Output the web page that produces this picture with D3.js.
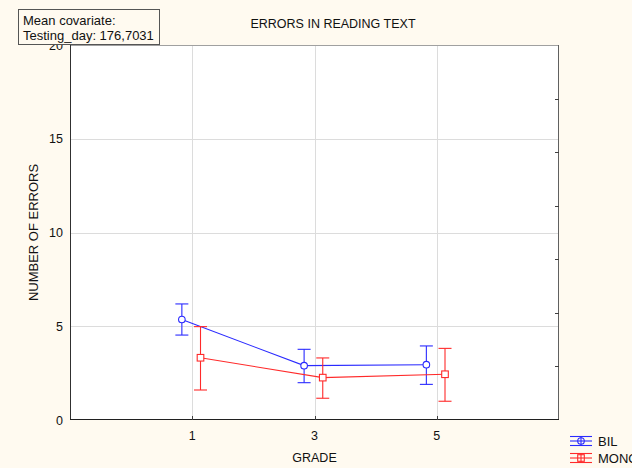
<!DOCTYPE html>
<html>
<head>
<meta charset="utf-8">
<script src="https://cdn.jsdelivr.net/npm/d3@7"></script>
<style>
  html, body { margin: 0; padding: 0; background: #fffaf0; }
  svg { display: block; font-family: "Liberation Sans", Arial, sans-serif; }
</style>
</head>
<body>
<svg id="chart" width="632" height="468"></svg>
<script>
// Grade levels and group means (with confidence limits) of reading errors
const grades = [1, 3, 5];
const yTicks = [0, 5, 10, 15, 20];
const bilMean = [5.36, 2.90, 2.95];
const bilLow  = [4.53, 1.99, 1.90];
const bilHigh = [6.19, 3.77, 3.95];
const monoMean = [3.32, 2.26, 2.44];
const monoLow  = [1.60, 1.16, 1.00];
const monoHigh = [4.98, 3.31, 3.82];
const groupNames = ["BIL", "MONO"];
const title = "ERRORS IN READING TEXT";
const xTitle = "GRADE";
const yTitle = "NUMBER OF ERRORS";
const noteLines = ["Mean covariate:", "Testing_day: 176,7031"];

const svg = d3.select("#chart");
const W = 632, H = 468;
const m = { left: 70, right: 559, top: 45, bottom: 420 };

svg.append("rect").attr("width", W).attr("height", H).attr("fill", "#fffaf0");

const x = d3.scaleLinear().domain([-1, 7]).range([m.left, m.right]);
const y = d3.scaleLinear().domain([0, 20]).range([m.bottom, m.top]);

// plot area
svg.append("rect")
  .attr("x", m.left).attr("y", m.top)
  .attr("width", m.right - m.left).attr("height", m.bottom - m.top)
  .attr("fill", "#ffffff");

// grid
const grid = svg.append("g").attr("stroke", "#dcdcdc").attr("stroke-width", 1);
grid.selectAll("line.h").data(yTicks.filter(v => v > 0 && v < 20)).join("line")
  .attr("x1", m.left).attr("x2", m.right)
  .attr("y1", d => Math.round(y(d)) + 0.5).attr("y2", d => Math.round(y(d)) + 0.5);
grid.selectAll("line.v").data(grades).join("line")
  .attr("y1", m.top).attr("y2", m.bottom)
  .attr("x1", d => Math.round(x(d)) + 0.5).attr("x2", d => Math.round(x(d)) + 0.5);

// frame
svg.append("line").attr("x1", m.left).attr("x2", m.right).attr("y1", m.top + 0.5).attr("y2", m.top + 0.5)
  .attr("stroke", "#a0a0a0");
svg.append("line").attr("x1", m.right - 0.5).attr("x2", m.right - 0.5).attr("y1", m.top).attr("y2", m.bottom)
  .attr("stroke", "#606060");
svg.append("line").attr("x1", m.left + 0.5).attr("x2", m.left + 0.5).attr("y1", m.top).attr("y2", m.bottom)
  .attr("stroke", "#303030");
svg.append("line").attr("x1", m.left).attr("x2", m.right).attr("y1", m.bottom - 0.5).attr("y2", m.bottom - 0.5)
  .attr("stroke", "#202020");

// right-side minor ticks
const rightTicks = d3.range(1, 7).map(i => i * 20 / 7);
svg.append("g").selectAll("line").data(rightTicks).join("line")
  .attr("x1", m.right - 4).attr("x2", m.right)
  .attr("y1", d => Math.round(y(d)) + 0.5).attr("y2", d => Math.round(y(d)) + 0.5)
  .attr("stroke", "#404040");

// bottom ticks
svg.append("g").selectAll("line").data(grades).join("line")
  .attr("x1", d => Math.round(x(d)) + 0.5).attr("x2", d => Math.round(x(d)) + 0.5)
  .attr("y1", m.bottom - 4).attr("y2", m.bottom)
  .attr("stroke", "#404040");

// tick labels
svg.append("g").selectAll("text").data(yTicks).join("text")
  .attr("x", m.left - 7).attr("y", d => y(d) + 4.5)
  .attr("text-anchor", "end").attr("font-size", 12.5).attr("fill", "#111")
  .text(d => d);
svg.append("g").selectAll("text").data(grades).join("text")
  .attr("x", d => x(d)).attr("y", 439.5)
  .attr("text-anchor", "middle").attr("font-size", 12.5).attr("fill", "#111")
  .text(d => d);

// titles
svg.append("text").attr("x", 333).attr("y", 28).attr("text-anchor", "middle")
  .attr("font-size", 12.5).attr("fill", "#111").text(title);
svg.append("text").attr("x", x(3)).attr("y", 461.5).attr("text-anchor", "middle")
  .attr("font-size", 12.5).attr("fill", "#111").text(xTitle);
svg.append("text").attr("transform", `translate(38,${(m.top + m.bottom) / 2}) rotate(-90)`)
  .attr("text-anchor", "middle").attr("font-size", 13).attr("fill", "#111").text(yTitle);

// series
const series = [
  { name: groupNames[0], color: "#2a2aff", dx: -0.17, mean: bilMean, lo: bilLow, hi: bilHigh, shape: "circle" },
  { name: groupNames[1], color: "#ff2a2a", dx: 0.135, mean: monoMean, lo: monoLow, hi: monoHigh, shape: "square" }
];
const cap = 6.5;

series.forEach(s => {
  const pts = grades.map((g, i) => ({ g, px: x(g + s.dx), m: s.mean[i], lo: s.lo[i], hi: s.hi[i] }));
  const g = svg.append("g").attr("stroke", s.color).attr("fill", "none").attr("stroke-width", 1.1);
  g.append("path")
    .attr("d", d3.line().x(d => d.px).y(d => y(d.m))(pts));
  pts.forEach(d => {
    g.append("line").attr("x1", d.px).attr("x2", d.px).attr("y1", y(d.hi)).attr("y2", y(d.lo));
    g.append("line").attr("x1", d.px - cap).attr("x2", d.px + cap).attr("y1", y(d.hi)).attr("y2", y(d.hi));
    g.append("line").attr("x1", d.px - cap).attr("x2", d.px + cap).attr("y1", y(d.lo)).attr("y2", y(d.lo));
    if (s.shape === "circle") {
      g.append("circle").attr("cx", d.px).attr("cy", y(d.m)).attr("r", 3.3).attr("fill", "#fff");
    } else {
      g.append("rect").attr("x", d.px - 3.3).attr("y", y(d.m) - 3.3).attr("width", 6.6).attr("height", 6.6).attr("fill", "#fff");
    }
  });
});

// legend
series.forEach((s, i) => {
  const cy = 441 + i * 17, cx = 581;
  const g = svg.append("g").attr("stroke", s.color).attr("fill", "none").attr("stroke-width", 1.1);
  g.append("line").attr("x1", cx - 11).attr("x2", cx + 11).attr("y1", cy - 4.5).attr("y2", cy - 4.5);
  g.append("line").attr("x1", cx - 11).attr("x2", cx + 11).attr("y1", cy).attr("y2", cy);
  g.append("line").attr("x1", cx - 11).attr("x2", cx + 11).attr("y1", cy + 4.5).attr("y2", cy + 4.5);
  g.append("line").attr("x1", cx).attr("x2", cx).attr("y1", cy - 4.5).attr("y2", cy + 4.5);
  if (s.shape === "circle") g.append("circle").attr("cx", cx).attr("cy", cy).attr("r", 3.3);
  else g.append("rect").attr("x", cx - 3.3).attr("y", cy - 3.3).attr("width", 6.6).attr("height", 6.6);
  svg.append("text").attr("x", 598).attr("y", cy + 5).attr("font-size", 13).attr("fill", "#111").text(s.name);
});

// covariate note box
svg.append("rect").attr("x", 18.5).attr("y", 9.5).attr("width", 141).attr("height", 35)
  .attr("fill", "#fffaf0").attr("stroke", "#555");
svg.append("g").selectAll("text").data(noteLines).join("text")
  .attr("x", 23).attr("y", (d, i) => 25 + i * 14.5)
  .attr("font-size", 13).attr("fill", "#111").text(d => d);
</script>
</body>
</html>
